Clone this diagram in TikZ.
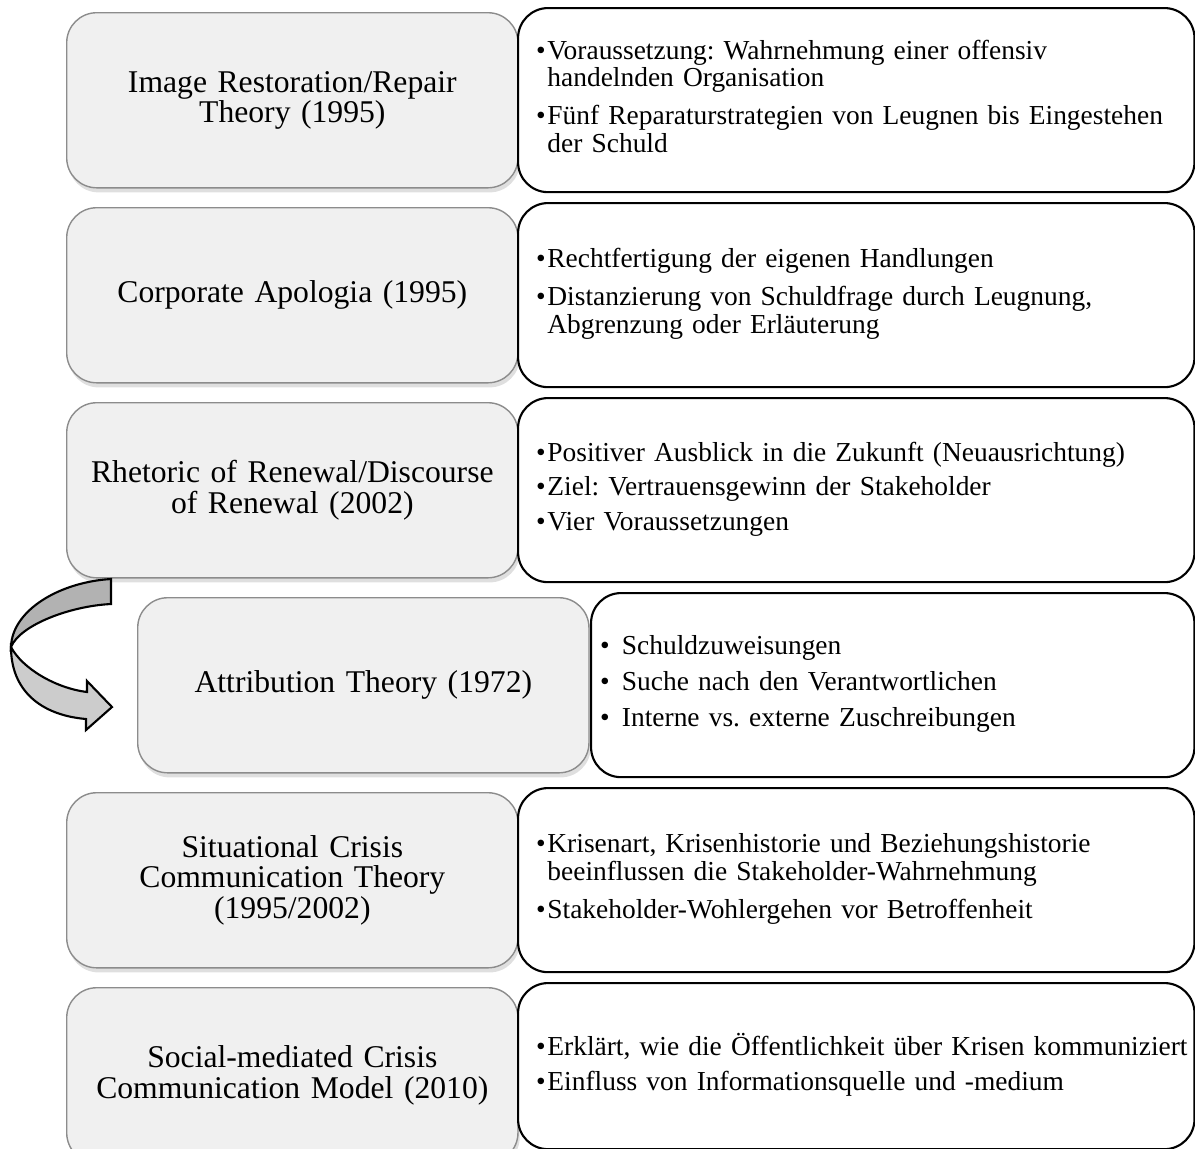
\documentclass[tikz,border=0pt]{standalone}
\usepackage{fontspec}
\setmainfont{Liberation Serif}
\usetikzlibrary{shadows}
\frenchspacing

\begin{document}
\begin{tikzpicture}[x=0.01cm,y=-0.01cm,
	theory/.style={rectangle, rounded corners=0.3cm, draw=gray!90, line width=0.4pt,
		fill=gray!12, minimum width=4.51cm, minimum height=1.75cm, text width=4.3cm,
		align=center, inner sep=0pt, anchor=north west, font=\fontsize{9}{8.6}\selectfont,
		drop shadow={shadow xshift=0.5pt, shadow yshift=-1.3pt, opacity=0.25}},
	detail/.style={rectangle, rounded corners=0.3cm, draw=black, line width=0.6pt,
		fill=white, minimum width=6.76cm, minimum height=1.84cm, text width=6.40cm,
		align=left, inner sep=0pt, anchor=north west, font=\fontsize{7.8}{7.8}\selectfont}]

	\useasboundingbox (0,0) rectangle (1195,1148);

	\def\bl{\textbullet}

	% theories
	\node[theory] (t1) at (66,12) {Image Restoration/Repair\\Theory (1995)};
	\node[theory] (t2) at (66,207) {Corporate Apologia (1995)};
	\node[theory] (t3) at (66,402) {Rhetoric of Renewal/Discourse\\of Renewal (2002)};
	\node[theory] (t4) at (137,597) {Attribution Theory (1972)};
	\node[theory] (t5) at (66,792) {Situational Crisis\\Communication Theory\\(1995/2002)};
	\node[theory] (t6) at (66,987) {Social-mediated Crisis\\Communication Model (2010)};

	% details
	\node[detail] (d1) at (517,7) {\begin{tabular}{@{}l@{\hspace{0.5pt}}l@{}}
		\bl & Voraussetzung: Wahrnehmung einer offensiv\\
		& handelnden Organisation\\[3pt]
		\bl & Fünf Reparaturstrategien von Leugnen bis Eingestehen\\
		& der Schuld
		\end{tabular}};
	\node[detail] (d2) at (517,202) {\begin{tabular}{@{}l@{\hspace{0.5pt}}l@{}}
		\bl & Rechtfertigung der eigenen Handlungen\\[3pt]
		\bl & Distanzierung von Schuldfrage durch Leugnung,\\
		& Abgrenzung oder Erläuterung
		\end{tabular}};
	\node[detail] (d3) at (517,397) {\begin{tabular}{@{}l@{\hspace{0.5pt}}l@{}}
		\bl & Positiver Ausblick in die Zukunft (Neuausrichtung)\\[2pt]
		\bl & Ziel: Vertrauensgewinn der Stakeholder\\[2pt]
		\bl & Vier Voraussetzungen
		\end{tabular}};
	\node[detail, minimum width=6.03cm, text width=5.85cm] (d4) at (590,592) {\begin{tabular}{@{}l@{\hspace{3.5pt}}l@{}}
		\bl & Schuldzuweisungen\\[2.5pt]
		\bl & Suche nach den Verantwortlichen\\[2.5pt]
		\bl & Interne vs. externe Zuschreibungen
		\end{tabular}};
	\node[detail] (d5) at (517,787) {\begin{tabular}{@{}l@{\hspace{0.5pt}}l@{}}
		\bl & Krisenart, Krisenhistorie und Beziehungshistorie\\
		& beeinflussen die Stakeholder-Wahrnehmung\\[3pt]
		\bl & Stakeholder-Wohlergehen vor Betroffenheit
		\end{tabular}};
	\node[detail, minimum height=1.66cm] (d6) at (517,982) {\begin{tabular}{@{}l@{\hspace{0.5pt}}l@{}}
		\bl & Erklärt, wie die Öffentlichkeit über Krisen kommuniziert\\[2pt]
		\bl & Einfluss von Informationsquelle und -medium
		\end{tabular}};

	% curved arrow into t4
	\draw[line width=0.6pt, fill=gray!60] (111,579) .. controls (60,582) and (12,610) .. (11,647)
		.. controls (20,625) and (70,606) .. (111,604) -- cycle;
	\draw[line width=0.6pt, fill=gray!40] (11,647) .. controls (22,668) and (55,688) .. (87,692)
		-- (87,681) -- (112,707) -- (86,730) -- (86,719)
		.. controls (40,715) and (11,690) .. (11,647) -- cycle;
\end{tikzpicture}
\end{document}
